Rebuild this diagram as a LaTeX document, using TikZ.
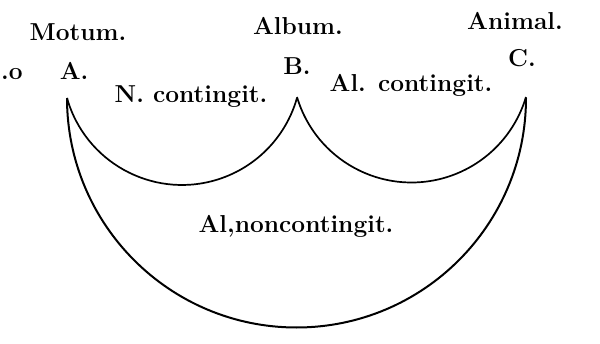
\documentclass[tikz,border=0pt]{standalone}
\usepackage{fontspec}
\begin{document}
\begin{tikzpicture}[x=1pt,y=1pt,
  lbl/.style={inner sep=0pt,anchor=base,font=\fontsize{24.5}{29}\selectfont\bfseries},
  arcline/.style={line width=1.7pt,black},
  bigarc/.style={line width=2pt,black}]
\useasboundingbox (0,0) rectangle (600,343);
% labels
\node[lbl] (motum) at (78,302) {Motum.};
\node[lbl] (album) at (298,308) {Album.};
\node[lbl] (animal) at (515,313) {Animal.};
\node[lbl,anchor=base west] (lo) at (1,263) {.o};
\node[lbl] (a) at (74,263) {A.};
\node[lbl] (b) at (297,268) {B.};
\node[lbl] (c) at (522,276) {C.};
\node[lbl] (ncont) at (191,240) {N. contingit.};
\node[lbl] (alcont) at (411,251) {Al. contingit.};
\node[lbl] (alnon) at (296,110) {Al,noncontingit.};
% arc end points
\coordinate (pA) at (67,245);
\coordinate (pB) at (297,246);
\coordinate (pC) at (526,246);
% arcs
\draw[arcline] (pA) arc[start angle=195.8,end angle=344.2,radius=119.5];
\draw[arcline] (pB) arc[start angle=196.5,end angle=343.5,radius=119.4];
\draw[bigarc] (pA) arc[start angle=180,end angle=360,radius=229.5];
\end{tikzpicture}
\end{document}
